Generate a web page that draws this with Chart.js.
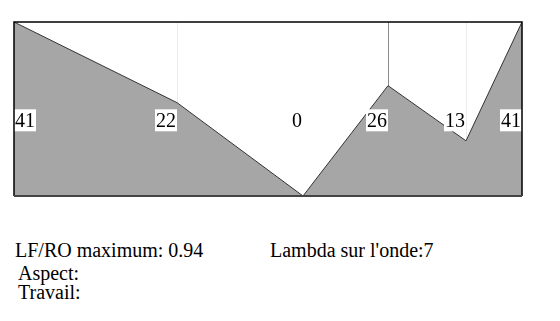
<!DOCTYPE html>
<html>
<head>
<meta charset="utf-8">
<script src="https://cdn.jsdelivr.net/npm/chart.js@4"></script>
<style>
  body { margin: 0; background: #fff; width: 560px; height: 321px; overflow: hidden; }
  #zone { position: absolute; left: 0; top: 0; width: 560px; height: 210px; }
  .info { position: absolute; font-family: "Liberation Serif", serif; font-size: 20px; color: #000; white-space: nowrap; }
</style>
</head>
<body>
<div id="zone"><canvas id="grafico"></canvas></div>
<div class="info" style="left:15px; top:239px;">LF/RO maximum: 0.94</div>
<div class="info" style="left:270px; top:239px;">Lambda sur l'onde:7</div>
<div class="info" style="left:18px; top:262px;">Aspect:</div>
<div class="info" style="left:18px; top:281px;">Travail:</div>
<script>
// --- Données ---
const positions = [0, 163, 289, 374, 452, 508];
const valeurs = [41, 22, 0, 26, 13, 41];
const etiquettes = ['41', '22', '0', '26', '13', '41'];

// cadre autour de la zone
const cadre = {
  id: 'cadre',
  afterDraw(chart) {
    const a = chart.chartArea, c = chart.ctx;
    c.save();
    c.strokeStyle = '#000';
    c.lineWidth = 1.5;
    c.beginPath();
    c.moveTo(a.left, a.bottom);
    c.lineTo(a.left, a.top);
    c.lineTo(a.right, a.top);
    c.lineTo(a.right, a.bottom);
    c.stroke();
    c.strokeStyle = '#444';
    c.lineWidth = 2;
    c.beginPath();
    c.moveTo(a.left, a.bottom);
    c.lineTo(a.right, a.bottom);
    c.stroke();
    c.restore();
  }
};

// valeurs écrites sur fond blanc
const etiquettesPlugin = {
  id: 'etiquettes',
  afterDatasetsDraw(chart) {
    const a = chart.chartArea, c = chart.ctx;
    const xs = chart.scales.x;
    const y = a.top + (a.bottom - a.top) * 0.565;
    c.save();
    c.font = '20px "Liberation Serif", serif';
    c.textBaseline = 'middle';
    etiquettes.forEach((t, i) => {
      const w = c.measureText(t).width + 2;
      let x = xs.getPixelForValue(positions[i]) - w;
      if (x < a.left) x = a.left;
      c.fillStyle = '#fff';
      if (valeurs[i] > 0) c.fillRect(x, y - 11, w, 22);
      c.fillStyle = '#000';
      c.fillText(t, x + 1, y + 1);
    });
    c.restore();
  }
};

const ctx = document.getElementById('grafico').getContext('2d');
new Chart(ctx, {
  type: 'line',
  data: {
    datasets: [{
      data: positions.map((p, i) => ({ x: p, y: valeurs[i] })),
      fill: 'origin',
      backgroundColor: '#a6a6a6',
      borderColor: '#333',
      borderWidth: 1,
      pointRadius: 0,
      tension: 0
    }]
  },
  options: {
    responsive: true,
    maintainAspectRatio: false,
    animation: false,
    layout: { padding: { left: 14, right: 38, top: 22, bottom: 14 } },
    plugins: { legend: { display: false }, tooltip: { enabled: false } },
    scales: {
      x: {
        type: 'linear',
        min: positions[0],
        max: positions[positions.length - 1],
        z: 1,
        afterBuildTicks: axis => { axis.ticks = positions.slice(1, -1).map(v => ({ value: v })); },
        ticks: { display: false },
        border: { display: false },
        grid: {
          drawTicks: false,
          color: c => c.index === 2 ? '#8a8a8a' : (c.index === 1 ? 'rgba(0,0,0,0)' : '#ececec'),
          lineWidth: 1
        }
      },
      y: { display: false, min: 0, max: 41 }
    }
  },
  plugins: [cadre, etiquettesPlugin]
});
</script>
</body>
</html>
